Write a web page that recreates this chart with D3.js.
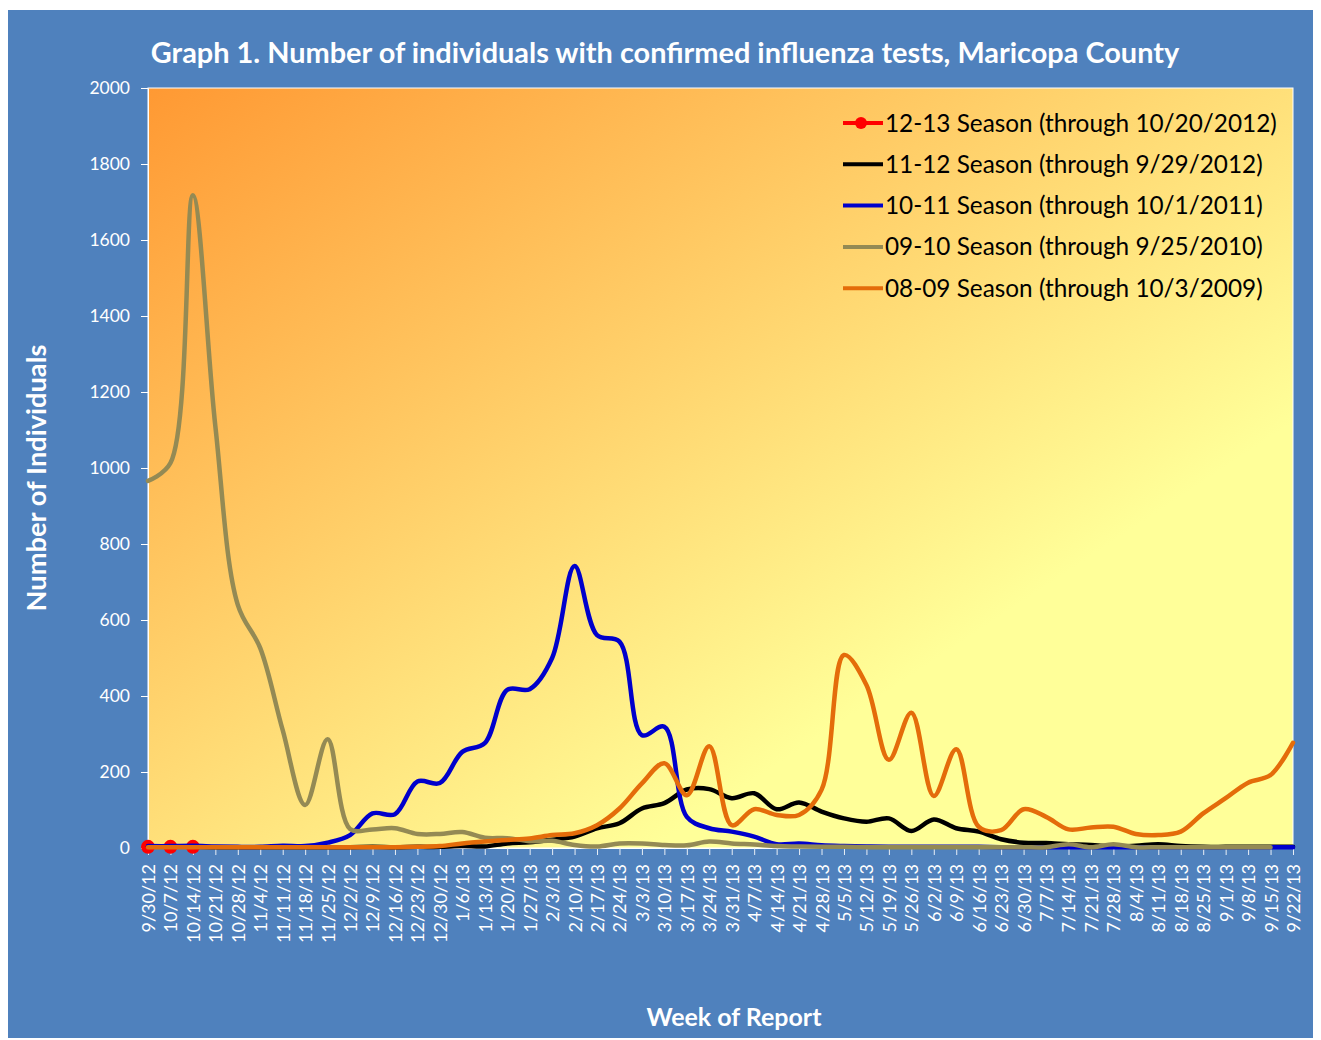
<!DOCTYPE html>
<html><head><meta charset="utf-8">
<script src="https://cdn.jsdelivr.net/npm/d3@7"></script>
<style>
body{margin:0;background:#fff;}
svg{display:block;}
text{font-family:Lato,"Open Sans","DejaVu Sans",sans-serif;}
</style>
</head><body>
<svg id="c" width="1321" height="1040"></svg>
<script>
// ---- data ----
const categories = ["9/30/12","10/7/12","10/14/12","10/21/12","10/28/12","11/4/12","11/11/12","11/18/12","11/25/12","12/2/12","12/9/12","12/16/12","12/23/12","12/30/12","1/6/13","1/13/13","1/20/13","1/27/13","2/3/13","2/10/13","2/17/13","2/24/13","3/3/13","3/10/13","3/17/13","3/24/13","3/31/13","4/7/13","4/14/13","4/21/13","4/28/13","5/5/13","5/12/13","5/19/13","5/26/13","6/2/13","6/9/13","6/16/13","6/23/13","6/30/13","7/7/13","7/14/13","7/21/13","7/28/13","8/4/13","8/11/13","8/18/13","8/25/13","9/1/13","9/8/13","9/15/13","9/22/13"];

const season1213 = [3,3,3];
const season1112 = [3,3,3,2,2,2,2,2,2,2,3,2,3,3,5,4,12,15,22,30,52,65,104,118,154,155,131,144,102,120,96,78,69,78,45,75,52,43,23,14,13,10,8,4,6,10,5,3,3,3,3,3];
const season1011 = [5,5,6,4,3,3,6,5,14,34,91,89,175,171,253,276,416,418,500,742,560,543,297,319,82,52,43,30,10,12,7,5,4,3,3,3,3,3,2,2,2,2,2,2,2,2,2,2,2,2,2,2];
const season0910 = [966,1013,1718,1110,640,526,310,113,286,50,49,52,37,37,42,27,26,18,19,8,4,12,12,8,7,17,12,9,5,4,3,3,2,2,2,2,2,2,2,2,2,10,2,10,2,2,2,2,2,2,2];
const season0809 = [2,2,2,2,2,2,2,2,2,2,2,2,3,5,12,17,21,25,34,39,60,104,170,223,139,268,60,102,87,87,153,508,429,232,356,137,260,56,47,102,82,49,54,56,37,34,43,91,131,172,192,277];

const seriesNames = ["12-13 Season (through 10/20/2012)","11-12 Season (through 9/29/2012)","10-11 Season (through 10/1/2011)","09-10 Season (through 9/25/2010)","08-09 Season (through 10/3/2009)"];
const seriesColors = ["#FF0000","#000000","#0000CC","#948A54","#E46C0A"];
const yTicks = [0,200,400,600,800,1000,1200,1400,1600,1800,2000];

const titleText = "Graph 1. Number of individuals with confirmed influenza tests, Maricopa County";
const yTitle = "Number of Individuals";
const xTitle = "Week of Report";

// ---- drawing ----
const svg = d3.select("#c");
const L=148, R=1293, T=88, B=848;

svg.append("rect").attr("x",8).attr("y",10).attr("width",1305).attr("height",1028).attr("fill","#4F81BD");

const defs = svg.append("defs");
const grad = defs.append("linearGradient").attr("id","bg").attr("x1","0").attr("y1","0").attr("x2","1").attr("y2","1");
grad.append("stop").attr("offset","0").attr("stop-color","#FF9933");
grad.append("stop").attr("offset","0.72").attr("stop-color","#FFFF99");
grad.append("stop").attr("offset","1").attr("stop-color","#FFFF99");

const x = d3.scalePoint().domain(categories).range([L,R]);
const y = d3.scaleLinear().domain([0,2000]).range([B,T]);

svg.append("rect").attr("x",L).attr("y",T).attr("width",R-L).attr("height",B-T)
  .attr("fill","url(#bg)").attr("stroke","#FFFFFF").attr("stroke-width",1);

// axes
const yAxis = svg.append("g").attr("transform",`translate(${L},0)`)
  .call(d3.axisLeft(y).tickValues(yTicks).tickSize(7).tickPadding(11).tickFormat(d3.format("d")));
yAxis.select(".domain").attr("stroke","#FFFFFF");
yAxis.selectAll(".tick line").attr("stroke","#FFFFFF");
yAxis.selectAll(".tick text").attr("fill","#FFFFFF").style("font-size","17.5px").style("font-family","Lato");

const xAxis = svg.append("g").attr("transform",`translate(0,${B})`)
  .call(d3.axisBottom(x).tickSize(7).tickSizeOuter(0));
xAxis.select(".domain").attr("stroke","#FFFFFF");
xAxis.selectAll(".tick line").attr("stroke","#E8EEF6");
xAxis.selectAll(".tick text").attr("fill","#FFFFFF").style("font-size","18px").style("font-family","Lato")
  .attr("transform","rotate(-90)").attr("x",-16).attr("y",0).attr("dy","0.36em").style("text-anchor","end");

// lines
const line = d3.line().x((d,i)=>x(categories[i])).y(d=>y(d)).curve(d3.curveCatmullRom.alpha(0.5));
const allSeries = [season1213, season1112, season1011, season0910, season0809];
allSeries.forEach((s,k)=>{
  svg.append("path").datum(s).attr("d",line).attr("fill","none")
    .attr("stroke",seriesColors[k]).attr("stroke-width",4.5)
    .attr("stroke-linejoin","round").attr("stroke-linecap","round");
  if(k===0){
    svg.selectAll(".mk").data(s).enter().append("circle")
      .attr("cx",(d,i)=>x(categories[i])).attr("cy",d=>y(d)).attr("r",7).attr("fill","#FF0000");
  }
});

// fitting helper
function fit(sel, target){
  const w = sel.node().getComputedTextLength();
  const fs = parseFloat(sel.style("font-size"));
  sel.style("font-size",(fs*target/w)+"px");
}

// title
const t = svg.append("text").attr("x",665).attr("y",63).attr("text-anchor","middle")
  .attr("fill","#FFFFFF").style("font-weight","bold").style("font-size","27px").text(titleText);
fit(t,1029);

// axis titles
const yt = svg.append("text").attr("transform","translate(46,478) rotate(-90)").attr("text-anchor","middle")
  .attr("fill","#FFFFFF").style("font-weight","bold").style("font-size","24px").text(yTitle);
fit(yt,267);
const xt = svg.append("text").attr("x",734).attr("y",1026).attr("text-anchor","middle")
  .attr("fill","#FFFFFF").style("font-weight","bold").style("font-size","24px").text(xTitle);
fit(xt,175);

// legend
const lg = svg.append("g");
let legendFs = null;
seriesNames.forEach((nm,k)=>{
  const cy = 123 + k*41.3;
  lg.append("line").attr("x1",843).attr("x2",883).attr("y1",cy).attr("y2",cy)
    .attr("stroke",seriesColors[k]).attr("stroke-width",4);
  if(k===0) lg.append("circle").attr("cx",861).attr("cy",cy).attr("r",6).attr("fill","#FF0000");
  const tx = lg.append("text").attr("x",885).attr("y",cy).attr("dy","0.35em")
    .attr("fill","#000000").style("font-size","24px").text(nm);
  if(k===0){ fit(tx,392); legendFs = tx.style("font-size"); }
  else tx.style("font-size",legendFs);
});
</script>
</body></html>
